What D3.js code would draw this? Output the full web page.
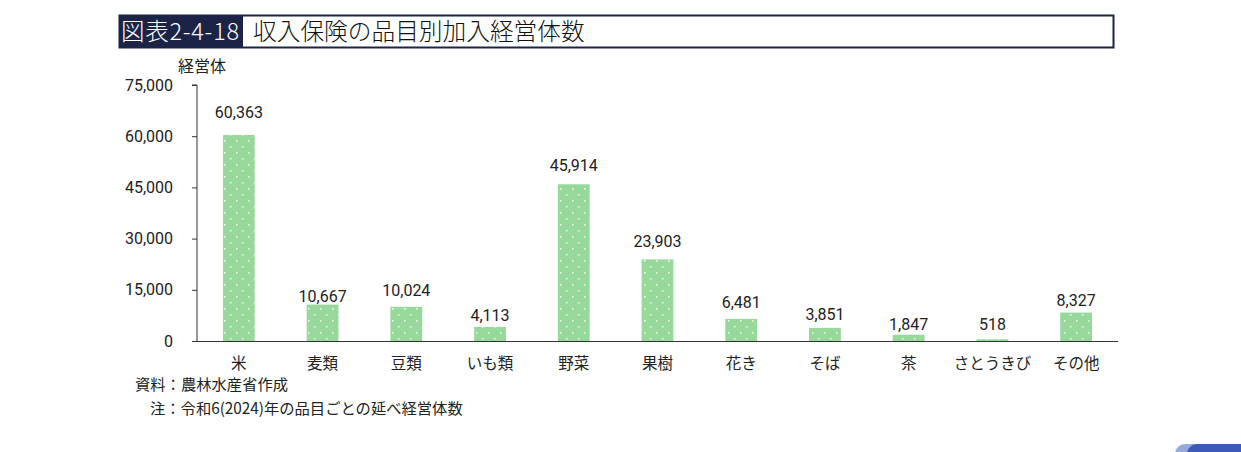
<!DOCTYPE html>
<html><head><meta charset="utf-8">
<script src="https://cdn.jsdelivr.net/npm/d3@7"></script>
<style>
body{margin:0;background:#fff;}
svg{display:block;font-family:"Noto Sans CJK JP","Noto Sans",sans-serif;}
</style></head>
<body><svg id="c" width="1241" height="452"></svg>
<script>
const categories = ["米","麦類","豆類","いも類","野菜","果樹","花き","そば","茶","さとうきび","その他"];
const values = [60363,10667,10024,4113,45914,23903,6481,3851,1847,518,8327];
const yTicks = [0,15000,30000,45000,60000,75000];
const titleLabel = "図表2-4-18";
const titleText = "収入保険の品目別加入経営体数";
const yUnit = "経営体";
const notes = ["資料：農林水産省作成","注：令和6(2024)年の品目ごとの延べ経営体数"];

// layout: gap (px) between each value label baseline and its bar top, as placed in the original
const labelGaps = [17,3,11,6,13,12,11,8,5,9,7];

const svg = d3.select("#c");
const fmt = d3.format(",");
const numFont = "Roboto,'Noto Sans CJK JP',sans-serif";

// pattern
const defs = svg.append("defs");
const pat = defs.append("pattern").attr("id","dots").attr("patternUnits","userSpaceOnUse")
  .attr("width",12).attr("height",12);
pat.append("rect").attr("width",12).attr("height",12).attr("fill","#96d99b");
pat.append("rect").attr("x",2).attr("y",2).attr("width",1.6).attr("height",1.6).attr("fill","#eef9ef");
pat.append("rect").attr("x",8).attr("y",8).attr("width",1.6).attr("height",1.6).attr("fill","#eef9ef");

// title
svg.append("rect").attr("x",119.5).attr("y",15.5).attr("width",994).attr("height",32)
  .attr("fill","#fff").attr("stroke","#1b2447").attr("stroke-width",2);
svg.append("rect").attr("x",119).attr("y",15).attr("width",124).attr("height",33).attr("fill","#1b2447");
svg.append("text").attr("x",121).attr("y",40).attr("fill","#fff").attr("font-size",23.5)
  .attr("font-weight",300).attr("textLength",118).text(titleLabel);
svg.append("text").attr("x",253).attr("y",40).attr("fill","#111").attr("font-size",23.7)
  .attr("font-weight",300).text(titleText);

const x = d3.scaleBand().domain(categories).range([197,1118]).paddingInner(0.62).paddingOuter(0.31);
const y = d3.scaleLinear().domain([0,75000]).range([341,85]);

svg.append("g").attr("transform","translate(197,0)")
  .call(d3.axisLeft(y).tickValues(yTicks).tickFormat(fmt).tickSize(5).tickPadding(19))
  .call(g=>g.select(".domain").attr("stroke","#333").attr("d",`M-5,${y(75000)}H0V${y(0)}`))
  .call(g=>g.selectAll("line").attr("stroke","#333"))
  .call(g=>g.selectAll("text").attr("font-size",16).attr("fill","#222").attr("font-family",numFont));

svg.append("g").selectAll("rect").data(values).join("rect")
  .attr("x",(d,i)=>x(categories[i])).attr("width",x.bandwidth())
  .attr("y",d=>y(d)).attr("height",d=>y(0)-y(d)).attr("fill","url(#dots)");

svg.append("line").attr("x1",197).attr("x2",1118).attr("y1",341.5).attr("y2",341.5).attr("stroke","#333");

svg.append("g").selectAll("text").data(values).join("text")
  .attr("x",(d,i)=>x(categories[i])+x.bandwidth()/2).attr("y",(d,i)=>y(d)-labelGaps[i])
  .attr("text-anchor","middle").attr("font-size",16).attr("fill","#222")
  .attr("font-family",numFont).text(fmt);

svg.append("g").selectAll("text").data(categories).join("text")
  .attr("x",d=>x(d)+x.bandwidth()/2).attr("y",369)
  .attr("text-anchor","middle").attr("font-size",15.5).attr("fill","#222").text(d=>d);

svg.append("text").attr("x",178).attr("y",72).attr("font-size",16).attr("fill","#222").text(yUnit);

svg.append("text").attr("x",135).attr("y",390).attr("font-size",15.3).attr("fill","#222").text(notes[0]);
svg.append("text").attr("x",150).attr("y",414).attr("font-size",15.3).attr("fill","#222").text(notes[1]);

// decorative corner
svg.append("rect").attr("x",1175).attr("y",444).attr("width",90).attr("height",20).attr("rx",10).attr("fill","#98a8dc");
svg.append("rect").attr("x",1187).attr("y",444).attr("width",80).attr("height",20).attr("rx",10).attr("fill","#3d5ab8");
</script></body></html>
